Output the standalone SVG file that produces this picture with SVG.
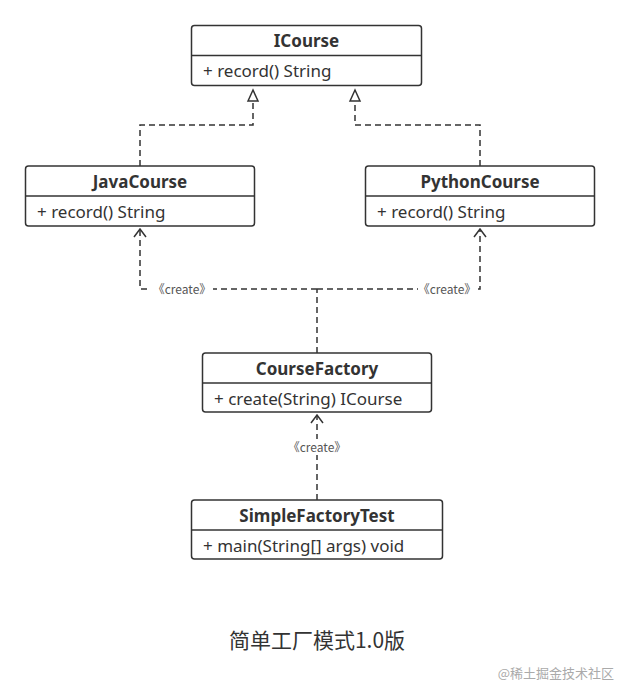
<svg xmlns="http://www.w3.org/2000/svg" width="620" height="687" viewBox="0 0 620 687">
<style>
.box{fill:#fff;stroke:#333;stroke-width:1.5}
.div{stroke:#333;stroke-width:1.5}
.title{font-family:"Noto Sans","Noto Sans CJK SC",sans-serif;font-size:17px;font-weight:bold;fill:#333;text-anchor:middle}
.mem{font-family:"Noto Sans","Noto Sans CJK SC",sans-serif;font-size:17px;fill:#333}
.dash{fill:none;stroke:#333;stroke-width:1.5;stroke-dasharray:6,4}
.lbl{font-family:"Noto Sans CJK SC","Noto Sans",sans-serif;font-size:12px;fill:#555;text-anchor:middle}
.lblbg{fill:#fff}
</style>
<defs>
<marker id="tri" markerWidth="14" markerHeight="14" refX="12" refY="7" orient="auto" markerUnits="userSpaceOnUse" viewBox="0 0 14 14">
<path d="M1,2 L12,7 L1,12 Z" fill="#fff" stroke="#333" stroke-width="1.5"/>
</marker>
<marker id="open" markerWidth="16" markerHeight="12" refX="8" refY="1" markerUnits="userSpaceOnUse" viewBox="0 0 16 12">
<path d="M2,9 L8,1 L14,9" fill="none" stroke="#333" stroke-width="1.5"/>
</marker>
</defs>
<rect width="620" height="687" fill="#fff"/>
<g id="connectors">
<path class="dash" d="M140,166 V125 H253 V90" marker-end="url(#tri)"/>
<path class="dash" d="M480,166 V125 H355 V90" marker-end="url(#tri)"/>
<path class="dash" d="M317,353 V289"/>
<path class="dash" d="M317,289 H140 V229" marker-end="url(#open)"/>
<path class="dash" d="M317,289 H480 V229" marker-end="url(#open)"/>
<path class="dash" d="M317,500 V415" marker-end="url(#open)"/>
<rect class="lblbg" x="151" y="281" width="62" height="16"/>
<text class="lbl" x="182" y="294">《create》</text>
<rect class="lblbg" x="418" y="281" width="60" height="16"/>
<text class="lbl" x="447" y="294">《create》</text>
<rect class="lblbg" x="286" y="439" width="62" height="16"/>
<text class="lbl" x="317" y="452">《create》</text>
</g>
<g id="ICourse">
<rect class="box" x="191.5" y="25.5" width="230" height="60" rx="3"/>
<line class="div" x1="191.5" y1="55.5" x2="421.5" y2="55.5"/>
<text class="title" x="306.5" y="47">ICourse</text>
<text class="mem" x="203" y="77">+ record() String</text>
</g>
<g id="JavaCourse">
<rect class="box" x="25.5" y="166" width="229" height="60" rx="3"/>
<line class="div" x1="25.5" y1="196" x2="254.5" y2="196"/>
<text class="title" x="140" y="188">JavaCourse</text>
<text class="mem" x="37" y="218">+ record() String</text>
</g>
<g id="PythonCourse">
<rect class="box" x="365.5" y="166" width="229" height="60" rx="3"/>
<line class="div" x1="365.5" y1="196" x2="594.5" y2="196"/>
<text class="title" x="480" y="188">PythonCourse</text>
<text class="mem" x="377" y="218">+ record() String</text>
</g>
<g id="CourseFactory">
<rect class="box" x="202.5" y="353" width="229" height="59" rx="3"/>
<line class="div" x1="202.5" y1="383" x2="431.5" y2="383"/>
<text class="title" x="317" y="375">CourseFactory</text>
<text class="mem" x="214" y="405">+ create(String) ICourse</text>
</g>
<g id="SimpleFactoryTest">
<rect class="box" x="191.5" y="500" width="251" height="59" rx="3"/>
<line class="div" x1="191.5" y1="530" x2="442.5" y2="530"/>
<text class="title" x="317" y="522">SimpleFactoryTest</text>
<text class="mem" x="203" y="552">+ main(String[] args) void</text>
</g>
<text x="317" y="648" font-family="Noto Sans CJK SC, sans-serif" font-size="21" fill="#333" text-anchor="middle">简单工厂模式1.0版</text>
<text x="614" y="678" font-family="Noto Sans CJK SC, sans-serif" font-size="13" fill="#aaa" text-anchor="end">@稀土掘金技术社区</text>
</svg>
